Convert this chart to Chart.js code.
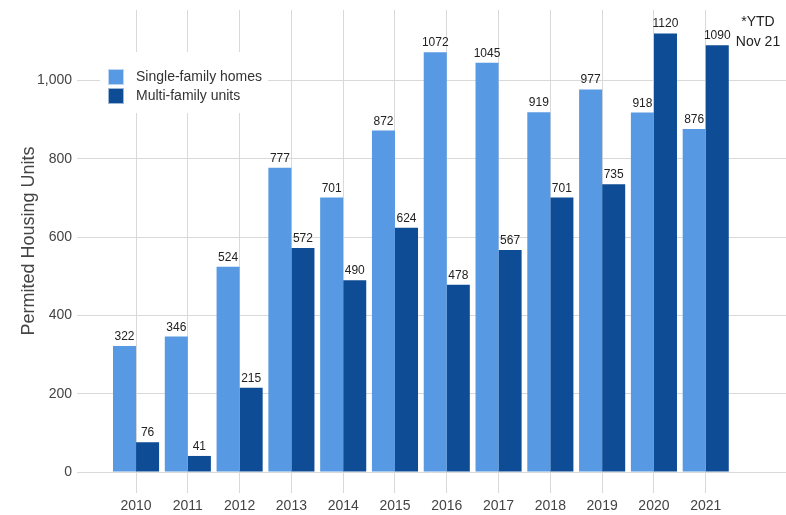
<!DOCTYPE html>
<html>
<head>
<meta charset="utf-8">
<script src="https://cdn.jsdelivr.net/npm/chart.js@4"></script>
<style>
  html, body { margin: 0; padding: 0; background: #fff; }
  #wrap { width: 786px; height: 515px; position: relative; }
</style>
</head>
<body>
<div id="wrap"><canvas id="chart"></canvas></div>
<script>
// ------------------------------------------------------------
// DATA
// ------------------------------------------------------------
const years        = [2010, 2011, 2012, 2013, 2014, 2015, 2016, 2017, 2018, 2019, 2020, 2021];
const singleFamily = [322, 346, 524, 777, 701, 872, 1072, 1045, 919, 977, 918, 876];
const multiFamily  = [76, 41, 215, 572, 490, 624, 478, 567, 701, 735, 1120, 1090];
const yTicks       = [0, 200, 400, 600, 800, 1000];
const seriesNames  = ["Single-family homes", "Multi-family units"];
const noteLines    = ["*YTD", "Nov 21"];

const LIGHT = "#5899e4";
const DARK  = "#0e4c96";
const GRID  = "#d9d9d9";
const FONT  = "'Liberation Sans', Arial, sans-serif";

// ------------------------------------------------------------
// PLUGINS
// ------------------------------------------------------------
const valueLabels = {
  id: "valueLabels",
  afterDatasetsDraw(chart) {
    const ctx = chart.ctx;
    ctx.save();
    ctx.font = "12px " + FONT;
    ctx.fillStyle = "#222";
    ctx.textAlign = "center";
    ctx.textBaseline = "alphabetic";
    chart.data.datasets.forEach((ds, di) => {
      chart.getDatasetMeta(di).data.forEach((bar, i) => {
        ctx.fillText(String(ds.data[i].y), bar.x, bar.y - 6);
      });
    });
    ctx.restore();
  }
};

const boxLegend = {
  id: "boxLegend",
  afterDraw(chart) {
    const ctx = chart.ctx;
    ctx.save();
    ctx.fillStyle = "#fff";
    ctx.fillRect(100, 52, 168, 61);
    chart.data.datasets.forEach((ds, i) => {
      const y = 69 + i * 19;
      ctx.fillStyle = ds.backgroundColor;
      ctx.fillRect(108, y, 16, 16);
      ctx.strokeStyle = "rgba(255,255,255,0.6)";
      ctx.lineWidth = 1;
      ctx.strokeRect(108.5, y + 0.5, 15, 15);
      ctx.fillStyle = "#333";
      ctx.font = "14px " + FONT;
      ctx.textBaseline = "middle";
      ctx.fillText(ds.label, 136, y + 8);
    });
    // note top right
    ctx.fillStyle = "#222";
    ctx.font = "14px " + FONT;
    ctx.textAlign = "center";
    noteLines.forEach((t, i) => ctx.fillText(t, 758, 22 + i * 20));
    ctx.restore();
  }
};

// ------------------------------------------------------------
// CHART
// ------------------------------------------------------------
new Chart(document.getElementById("chart"), {
  type: "bar",
  data: {
    datasets: [
      {
        label: seriesNames[0],
        data: years.map((yr, i) => ({ x: yr, y: singleFamily[i] })),
        backgroundColor: LIGHT
      },
      {
        label: seriesNames[1],
        data: years.map((yr, i) => ({ x: yr, y: multiFamily[i] })),
        backgroundColor: DARK
      }
    ]
  },
  options: {
    responsive: true,
    maintainAspectRatio: false,
    animation: false,
    categoryPercentage: 0.89,
    barPercentage: 1.0,
    layout: { padding: { top: 10, right: 0, bottom: 0, left: 0 } },
    plugins: {
      legend: { display: false },
      tooltip: { enabled: false }
    },
    scales: {
      x: {
        type: "linear",
        offset: false,
        min: 2008.86,
        max: 2022.55,
        afterBuildTicks: s => { s.ticks = years.map(v => ({ value: v })); },
        afterFit: s => { s.height = 43; },
        ticks: {
          callback: v => String(v),
          color: "#444",
          font: { family: FONT, size: 14 },
          padding: 5,
          maxRotation: 0,
          autoSkip: false
        },
        grid: { color: GRID, tickLength: 21, drawTicks: true, offset: false },
        border: { display: false }
      },
      y: {
        min: 0,
        max: 1180,
        afterBuildTicks: s => { s.ticks = yTicks.map(v => ({ value: v })); },
        afterFit: s => { s.width = 77; s.paddingTop = 0; s.paddingBottom = 0; },
        ticks: {
          color: "#444",
          font: { family: FONT, size: 14 },
          padding: 5,
          callback: v => v.toLocaleString("en-US")
        },
        grid: { color: GRID, drawTicks: false },
        border: { display: false },
        title: {
          display: true,
          text: "Permited Housing Units",
          color: "#444",
          font: { family: FONT, size: 18 },
          padding: { top: 18, bottom: 0 }
        }
      }
    }
  },
  plugins: [valueLabels, boxLegend]
});
</script>
</body>
</html>
